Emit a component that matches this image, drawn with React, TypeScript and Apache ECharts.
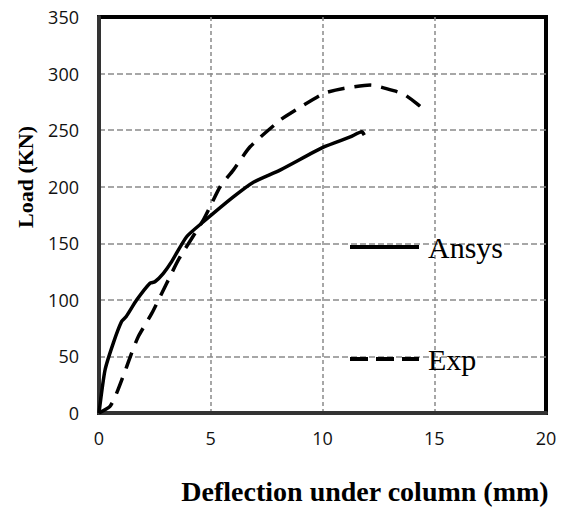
import React, { useEffect, useRef } from "react";
import * as echarts from "echarts";

const ansysX = [0, 0.27, 0.64, 1.01, 1.21, 1.69, 2.28, 2.5, 2.88, 3.25, 3.92, 4.67, 6.01, 6.91, 8.1, 10.04, 11.24, 11.76, 11.87];
const ansysY = [0, 38, 61.8, 80.8, 85, 100, 114.7, 116, 123.5, 133.8, 155.8, 169, 191, 204, 214.7, 235, 244, 248.5, 245.6];

const expX = [0, 0.49, 0.79, 1.24, 1.46, 1.76, 2.36, 3.03, 3.6, 4.67, 4.97, 5.42, 6.01, 6.76, 8.1, 8.55, 10.04, 10.94, 12.14, 13.33, 13.7, 14.22, 14.67];
const expY = [0, 5.8, 17.6, 41, 53, 67.6, 88, 114.7, 137, 170.6, 182.3, 200, 214.7, 235.3, 258.8, 264.7, 282.3, 286.8, 289.8, 284, 281, 273.5, 266];

const xTicks = { min: 0, max: 20, interval: 5 };
const yTicks = { min: 0, max: 350, interval: 50 };

const seriesNames = ["Ansys", "Exp"];
const xTitle = "Deflection under column (mm)";
const yTitle = "Load (KN)";

export default function App() {
  const ref = useRef<HTMLDivElement>(null);
  useEffect(() => {
    if (!ref.current) return;
    const chart = echarts.init(ref.current, undefined, { renderer: "svg" });
    const pairs = (xs: number[], ys: number[]) => xs.map((x, i) => [x, ys[i]]);
    const labelFont = { fontFamily: "Open Sans", fontSize: 18, color: "#111" };
    const legendBase = {
      orient: "vertical" as const,
      itemWidth: 69,
      itemHeight: 30,
      textStyle: { fontFamily: "Liberation Serif", fontSize: 30, color: "#000", padding: [0, 0, 0, 4] },
      inactiveColor: "#000",
      selectedMode: false,
      itemStyle: { opacity: 0 },
    };
    chart.setOption({
      animation: false,
      backgroundColor: "#fff",
      grid: {
        left: 99,
        top: 17,
        right: 15,
        bottom: 101,
        show: true,
        borderColor: "#000",
        borderWidth: 4,
      },
      xAxis: {
        type: "value",
        ...xTicks,
        axisLine: { show: true, lineStyle: { color: "#333", width: 4 } },
        axisTick: { show: false },
        axisLabel: { ...labelFont, margin: 16 },
        splitLine: {
          show: true,
          showMinLine: false,
          showMaxLine: false,
          lineStyle: { color: "#8a8a8a", width: 1.5, type: [4, 3] },
        },
      },
      yAxis: {
        type: "value",
        ...yTicks,
        axisLine: { show: true, lineStyle: { color: "#333", width: 4 } },
        axisTick: { show: false },
        axisLabel: { ...labelFont, margin: 20 },
        splitLine: {
          show: true,
          showMinLine: false,
          showMaxLine: false,
          lineStyle: { color: "#8a8a8a", width: 1.5, type: [6, 3] },
        },
      },
      legend: [
        {
          ...legendBase,
          data: [seriesNames[0]],
          left: 343,
          top: 227,
          lineStyle: { width: 4, type: "solid", color: "#000" },
        },
        {
          ...legendBase,
          data: [seriesNames[1]],
          left: 343,
          top: 339,
          lineStyle: { width: 4, type: [18, 8], color: "#000" },
        },
      ],
      graphic: [
        {
          type: "text",
          x: 365,
          y: 491,
          style: {
            text: xTitle,
            font: "bold 28px 'Liberation Serif'",
            fill: "#000",
            align: "center",
            verticalAlign: "middle",
          },
        },
        {
          type: "text",
          x: 25,
          y: 177,
          rotation: Math.PI / 2,
          style: {
            text: yTitle,
            font: "bold 22px 'Liberation Serif'",
            fill: "#000",
            align: "center",
            verticalAlign: "middle",
          },
        },
      ],
      series: [
        {
          name: seriesNames[0],
          type: "line",
          data: pairs(ansysX, ansysY),
          symbol: "none",
          smooth: 0.2,
          lineStyle: { color: "#000", width: 3.5, type: "solid" },
          itemStyle: { color: "#000" },
        },
        {
          name: seriesNames[1],
          type: "line",
          data: pairs(expX, expY),
          symbol: "none",
          smooth: 0.2,
          lineStyle: { color: "#000", width: 3.5, type: [17, 10] },
          itemStyle: { color: "#000" },
        },
      ],
    });
    return () => chart.dispose();
  }, []);
  return (
    <div
      ref={ref}
      style={{ position: "fixed", left: 0, top: 0, width: 561, height: 514, background: "#fff" }}
    />
  );
}
